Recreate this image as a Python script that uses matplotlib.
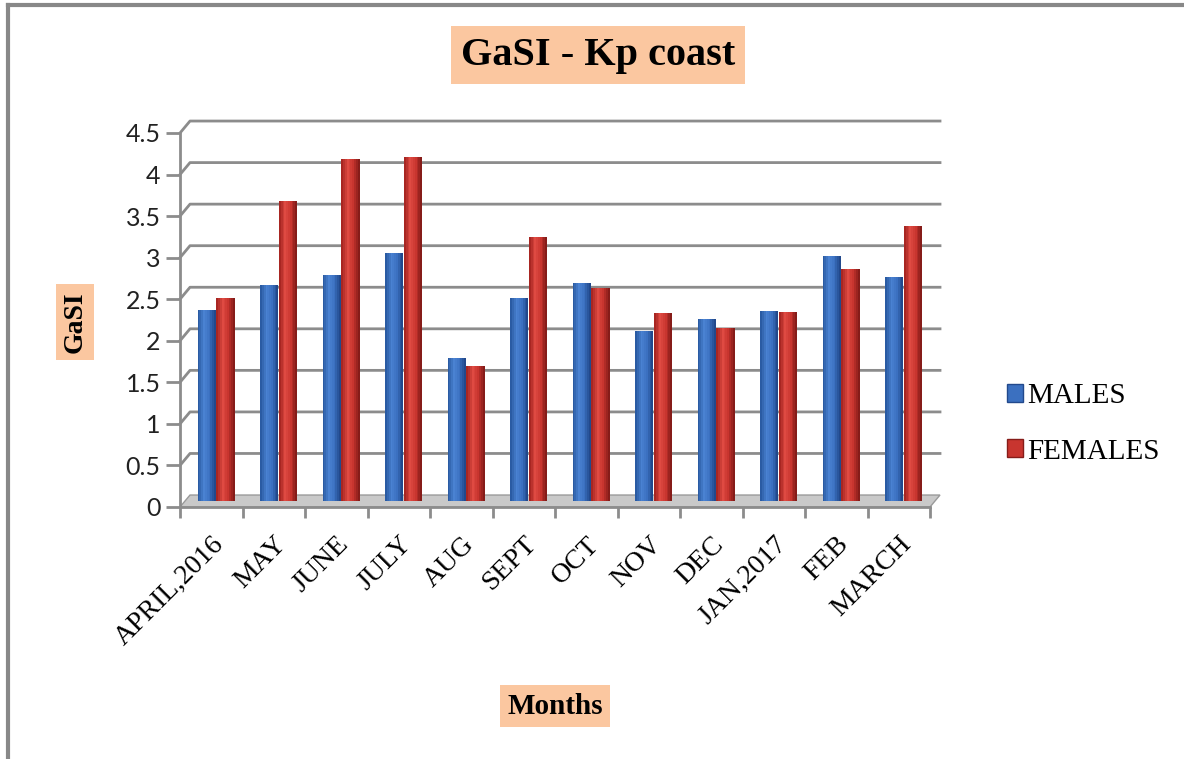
import numpy as np
import matplotlib
matplotlib.use('Agg')
import matplotlib.pyplot as plt
from matplotlib.patches import Patch, Polygon
from matplotlib.lines import Line2D
from matplotlib.colors import LinearSegmentedColormap

# Données
months = ['APRIL,2016', 'MAY', 'JUNE', 'JULY', 'AUG', 'SEPT', 'OCT', 'NOV',
          'DEC', 'JAN,2017', 'FEB', 'MARCH']
males = [2.30, 2.60, 2.72, 2.98, 1.72, 2.44, 2.62, 2.04, 2.19, 2.29, 2.95, 2.70]
females = [2.44, 3.61, 4.11, 4.14, 1.62, 3.18, 2.56, 2.26, 2.08, 2.28, 2.79, 3.31]
yticks = [0, 0.5, 1, 1.5, 2, 2.5, 3, 3.5, 4, 4.5]

serif = 'Liberation Serif'

fig = plt.figure(figsize=(11.84, 7.59), dpi=100)
ax = fig.add_axes([180 / 1184, 252 / 759, 750 / 1184, 374 / 759])
ax.set_xlim(-0.5, len(months) - 0.5)
ax.set_ylim(0, 4.5)

# décalage "3D" du mur du fond
dx, dy = 0.16, 0.144

# quadrillage sur le mur du fond
for v in yticks[1:]:
    ax.plot([-0.5, -0.5 + dx, len(months) - 0.5 + dx], [v, v + dy, v + dy],
            color='#8c8c8c', lw=2, clip_on=False, zorder=1)

# plancher
n = len(months)
floor = Polygon([(-0.5, 0), (n - 0.5, 0), (n - 0.5 + dx, dy), (-0.5 + dx, dy)],
                closed=True, facecolor='#c9c9c9', edgecolor='#9a9a9a', lw=1,
                clip_on=False, zorder=2)
ax.add_patch(floor)

# barres façon cylindre : dégradé horizontal en bandes
blue_cmap = LinearSegmentedColormap.from_list(
    'b', ['#2a5ba3', '#4a82d2', '#3b70c0', '#22498c'])
red_cmap = LinearSegmentedColormap.from_list(
    'r', ['#a82622', '#df4a42', '#c8352f', '#861c19'])
x = np.arange(n)
w = 0.29
base = dy / 2
strips = 10
for vals, shift, cmap in [(males, -0.073, blue_cmap), (females, 0.227, red_cmap)]:
    for k in range(strips):
        xs = x + shift - w / 2 + (k + 0.5) * w / strips
        ax.bar(xs, vals, width=w / strips, bottom=base,
               color=cmap(k / (strips - 1)), linewidth=0, zorder=3)

# axes
for s in ['top', 'right', 'bottom']:
    ax.spines[s].set_visible(False)
ax.spines['left'].set_color('#8c8c8c')
ax.spines['left'].set_linewidth(2)
ax.plot([-0.5, n - 0.5], [0, 0], color='#8c8c8c', lw=2, clip_on=False, zorder=4)

ax.set_yticks(yticks)
ax.set_yticklabels(['0', '0.5', '1', '1.5', '2', '2.5', '3', '3.5', '4', '4.5'],
                   fontsize=18, family='Lato', color='#222222')
ax.tick_params(axis='y', length=10, width=2, color='#8c8c8c', pad=4)

ax.set_xticks(x)
ax.set_xticklabels(months, rotation=45, ha='right', rotation_mode='anchor',
                   fontsize=20, family=serif)
ax.tick_params(axis='x', length=0, pad=18)
ax.set_xticks(np.arange(-0.5, n, 1), minor=True)
ax.tick_params(axis='x', which='minor', length=8, width=2, color='#8c8c8c')

# légende
handles = [Patch(facecolor='#3b70c0', edgecolor='#22498c', label='MALES'),
           Patch(facecolor='#c8352f', edgecolor='#861c19', label='FEMALES')]
fig.legend(handles=handles, loc='center left', bbox_to_anchor=(981 / 1184, 1 - 424 / 759),
           frameon=False, prop={'family': serif, 'size': 21},
           handlelength=0.55, handleheight=0.55, handletextpad=0.15, labelspacing=1.0)

# titres
peach = dict(boxstyle='square,pad=0.25', facecolor='#fbc7a0', edgecolor='none')
fig.text(598 / 1184, 1 - 55 / 759, 'GaSI - Kp coast', ha='center', va='center',
         fontsize=29, fontweight='bold', family=serif, bbox=peach)
fig.text(75 / 1184, 1 - 322 / 759, 'GaSI', ha='center', va='center', rotation=90,
         fontsize=20, fontweight='bold', family=serif, bbox=peach)
fig.text(555 / 1184, 1 - 706 / 759, 'Months', ha='center', va='center',
         fontsize=21, fontweight='bold', family=serif, bbox=peach)

# cadre gris
fig.add_artist(Line2D([8 / 1184, 8 / 1184], [0, 1 - 5 / 759],
                      transform=fig.transFigure, color='#888888', lw=3))
fig.add_artist(Line2D([8 / 1184, 1], [1 - 5 / 759, 1 - 5 / 759],
                      transform=fig.transFigure, color='#888888', lw=3))

fig.savefig('out.png', dpi=100)
